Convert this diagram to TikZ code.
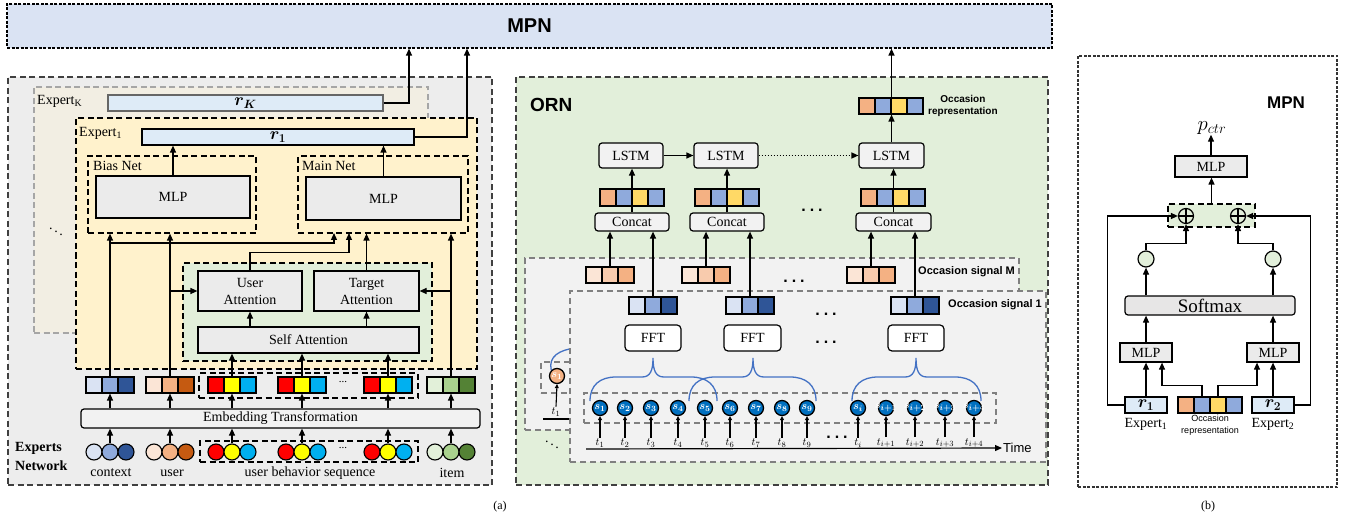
\documentclass[tikz,border=0pt]{standalone}
\usepackage{fontspec}
\setmainfont{Liberation Serif}
\setsansfont{Liberation Sans}
\usepackage{amsmath}
\usetikzlibrary{arrows.meta, positioning}

\definecolor{mpnfill}{HTML}{DAE3F3}
\definecolor{panelgray}{HTML}{EDEDED}
\definecolor{expkfill}{HTML}{F2EEE3}
\definecolor{expfill}{HTML}{FFF2CC}
\definecolor{attgreen}{HTML}{E2EFDA}
\definecolor{rfill}{HTML}{DEEBF7}
\definecolor{boxgray}{HTML}{EBEBEB}
\definecolor{lightgray}{HTML}{F2F2F2}
\definecolor{softgray}{HTML}{E7E6E6}
\definecolor{sigline}{HTML}{808080}
\definecolor{bA}{HTML}{DAE3F3}
\definecolor{bB}{HTML}{8FAADC}
\definecolor{bC}{HTML}{2F5597}
\definecolor{oA}{HTML}{FBE5D6}
\definecolor{oM}{HTML}{F8CBAD}
\definecolor{oB}{HTML}{F4B183}
\definecolor{oC}{HTML}{C55A11}
\definecolor{gA}{HTML}{E2F0D9}
\definecolor{gB}{HTML}{A9D18E}
\definecolor{gC}{HTML}{548235}
\definecolor{seqR}{HTML}{FF0000}
\definecolor{seqY}{HTML}{FFFF00}
\definecolor{seqB}{HTML}{00B0F0}
\definecolor{gold}{HTML}{FFD966}
\definecolor{sblue}{HTML}{0070C0}
\definecolor{braceblue}{HTML}{4472C4}

\tikzset{
  arr/.style={-{Triangle[length=7pt,width=6pt]}, line width=1.2pt},
  tarr/.style={-{Triangle[length=4pt,width=4pt]}, line width=1.1pt},
  box/.style={rectangle, draw, line width=1.2pt, fill=boxgray, inner sep=0pt,
    align=center, font=\fontsize{14}{17}\selectfont},
  rbox/.style={box, rounded corners=3pt},
  rbar/.style={rectangle, draw, line width=1.2pt, fill=rfill, inner sep=0pt,
    font=\fontsize{18}{18}\selectfont},
  dbox/.style={rectangle, draw, line width=1.2pt, inner sep=0pt, dash pattern=on 6pt off 3.5pt},
  fdbox/.style={dbox, dash pattern=on 3pt off 1.5pt},
  sigbox/.style={rectangle, draw=sigline, line width=1.5pt, fill=lightgray, inner sep=0pt,
    dash pattern=on 6pt off 4pt},
  cell/.style={rectangle, draw, line width=1.1pt, minimum width=16pt, inner sep=0pt},
  ball/.style={circle, draw, line width=1.1pt, minimum size=16pt, inner sep=0pt},
  snode/.style={circle, draw, line width=1.3pt, fill=sblue, minimum size=15pt, inner sep=0pt,
    text=white, font=\fontsize{11}{11}\selectfont},
  lbl/.style={inner sep=0pt, font=\fontsize{14}{16}\selectfont},
  tlbl/.style={inner sep=1pt, font=\fontsize{11}{11}\selectfont},
  tag/.style={inner sep=0pt, font=\sffamily\bfseries\fontsize{11}{12}\selectfont},
  ellip/.style={inner sep=0pt, font=\sffamily\bfseries\fontsize{16}{16}\selectfont},
  brace/.style={draw=braceblue, line width=1.3pt},
  oplus/.style={circle, draw, line width=1.2pt, minimum size=15pt, inner sep=0pt, fill=attgreen,
    path picture={\draw[line width=1.1pt] (path picture bounding box.north) -- (path picture bounding box.south)
      (path picture bounding box.west) -- (path picture bounding box.east);}},
  gdot/.style={circle, draw, line width=1.2pt, fill=attgreen, minimum size=16pt, inner sep=0pt}
}

% row of square cells: name, left x, centre y, height, colours
\newcommand{\cellrow}[5]{\foreach \c [count=\k] in {#5} {\node[cell, minimum height=#4, fill=\c] (#1\k) at ({#2+8+16*(\k-1)},#3) {};}}
% row of input circles: name, first centre x, centre y, colours
\newcommand{\dotrow}[4]{\foreach \c [count=\k] in {#4} {\node[ball, fill=\c] (#1\k) at ({#2+16*(\k-1)},#3) {};}}
\newcommand{\spdots}{.\hspace{4pt}.\hspace{4pt}.}
\newcommand{\slbl}[1]{\makebox[0pt]{$\boldsymbol{s_{#1}}$}}

\begin{document}
\begin{tikzpicture}[x=1pt, y=-1pt]
\useasboundingbox (0,0) rectangle (1348,521);

% ---- MPN bar ----
\node[fdbox, fill=mpnfill, minimum width=1045pt, minimum height=44pt,
  font=\sffamily\bfseries\fontsize{20}{20}\selectfont] (mpn) at (529.5,26) {MPN};

% ---- experts network ----
\node[dbox, draw=black!75, fill=panelgray, minimum width=484pt, minimum height=408pt] (expnet) at (250,281) {};
\node[dbox, draw=gray!70, fill=expkfill, minimum width=394pt, minimum height=246pt] (expk) at (231,210) {};
\node[lbl, anchor=west] (expklbl) at (37,101) {Expert\textsubscript{K}};
\node[rbar, draw=black!60, minimum width=275pt, minimum height=16pt] (rk) at (245.5,103) {$\boldsymbol{r_K}$};
\node[dbox, fill=expfill, minimum width=401pt, minimum height=251pt] (exp1) at (276.5,243.5) {};
\node[lbl, anchor=west] (exp1lbl) at (79,133) {Expert\textsubscript{1}};
\node[rbar, minimum width=272pt, minimum height=16pt] (r1) at (278,137) {$\boldsymbol{r_1}$};
\node[font=\fontsize{14}{14}\selectfont] (kdots) at (56,229) {$\ddots$};

\node[dbox, minimum width=168pt, minimum height=77pt] (biasnet) at (172,194.5) {};
\node[lbl, anchor=west] (biaslbl) at (93,166) {Bias Net};
\node[box, minimum width=154pt, minimum height=42pt] (biasmlp) at (173,197) {MLP};
\node[dbox, minimum width=170pt, minimum height=77pt] (mainnet) at (383,194.5) {};
\node[lbl, anchor=west] (mainlbl) at (302,166) {Main Net};
\node[box, minimum width=155pt, minimum height=43pt] (mainmlp) at (383.5,198.5) {MLP};

\node[dbox, fill=attgreen, minimum width=249pt, minimum height=98pt] (attn) at (307.5,312) {};
\node[box, minimum width=104pt, minimum height=40pt] (uatt) at (250,291) {User\\Attention};
\node[box, minimum width=105pt, minimum height=40pt] (tatt) at (366.5,291) {Target\\Attention};
\node[box, minimum width=221pt, minimum height=26pt] (satt) at (308.5,340) {Self Attention};

% embeddings
\node[dbox, minimum width=219pt, minimum height=25pt] (behemb) at (308.5,385.5) {};
\cellrow{ctxe}{86}{385}{16pt}{bA,bB,bC}
\cellrow{usre}{146}{385}{16pt}{oA,oB,oC}
\cellrow{behae}{208}{385}{16pt}{seqR,seqY,seqB}
\cellrow{behbe}{278}{385}{16pt}{seqR,seqY,seqB}
\cellrow{behce}{364}{385}{16pt}{seqR,seqY,seqB}
\cellrow{iteme}{427}{385}{16pt}{gA,gB,gC}
\node[lbl, font=\fontsize{11}{11}\selectfont] (embdots) at (343,382) {...};

\node[rbox, fill=lightgray, minimum width=399pt, minimum height=19pt] (emb) at (280.5,418.5) {Embedding Transformation};

% inputs
\node[dbox, minimum width=218pt, minimum height=21pt] (behin) at (309,451.5) {};
\dotrow{ctxc}{94}{452}{bA,bB,bC}
\dotrow{usrc}{154}{452}{oA,oB,oC}
\dotrow{behac}{216}{452}{seqR,seqY,seqB}
\dotrow{behbc}{286}{452}{seqR,seqY,seqB}
\dotrow{behcc}{372}{452}{seqR,seqY,seqB}
\dotrow{itemc}{435}{452}{gA,gB,gC}
\node[lbl, font=\fontsize{11}{11}\selectfont] (indots) at (343,448) {...};
\node[lbl] (ctxlbl) at (111,473) {context};
\node[lbl] (usrlbl) at (172,473) {user};
\node[lbl] (behlbl) at (310,473) {user behavior sequence};
\node[lbl] (itemlbl) at (452,473) {item};
\node[lbl, anchor=west, align=left, font=\bfseries\fontsize{14}{19}\selectfont] (expname) at (15,456) {Experts\\Network};

% ---- experts connections ----
\foreach \n in {ctxc2,usrc2,behac2,behbc2,behcc2,itemc2}
  \draw[arr] (\n.north) -- (\n |- emb.south);
\foreach \n in {ctxe2,usre2,behae2,behbe2,behce2,iteme2}
  \draw[arr] (\n |- emb.north) -- (\n.south);
\foreach \n in {behae2,behbe2,behce2}
  \draw[arr] (\n.north) -- (\n |- satt.south);
\draw[arr] (ctxe2.north) -- (ctxe2 |- biasnet.south);
\draw[arr] (usre2.north) -- (usre2 |- biasnet.south);
\draw[arr] (iteme2.north) -- (iteme2 |- mainnet.south);
\coordinate (ctxbend) at (110,243);
\coordinate (mnin1) at (334,233);
\coordinate (mnin2) at (349,233);
\coordinate (usrbend) at (170,291);
\coordinate (itembend) at (451,291);
\draw[arr] (ctxbend) -| (mnin1);
\draw[arr] (usrbend) -- (uatt.west);
\draw[arr] (itembend) -- (tatt.east);
\draw[arr] (uatt.north) -- ++(0,-18) -| (mnin2);
\draw[arr] (tatt.north) -- (tatt |- mainnet.south);
\draw[arr] (satt.north -| uatt) -- (uatt.south);
\draw[arr] (satt.north -| tatt) -- (tatt.south);
\draw[arr] (biasmlp.north) -- (biasmlp |- r1.south);
\draw[arr] (mainmlp.north) -- (mainmlp |- r1.south);
\coordinate (rkup) at (409,103);
\coordinate (r1up) at (467,137);
\draw[arr] (rk.east) -- (rkup) -- (rkup |- mpn.south);
\draw[arr] (r1.east) -- (r1up) -- (r1up |- mpn.south);

% ---- ORN ----
\node[dbox, draw=black!75, fill=attgreen, minimum width=532pt, minimum height=408pt] (orn) at (782,281) {};
\node[anchor=west, inner sep=0pt, font=\sffamily\bfseries\fontsize{19}{19}\selectfont] (ornlbl) at (530,105) {ORN};

% occasion signal M
\node[sigbox, minimum width=494pt, minimum height=172pt] (sigm) at (772,344) {};
\cellrow{sma}{586}{275}{16pt}{oA,oM,oB}
\cellrow{smb}{682}{275}{16pt}{oA,oM,oB}
\cellrow{smc}{847}{275}{16pt}{oA,oM,oB}
\node[tag, anchor=west] (smlbl) at (918,272) {Occasion signal M};
\node[ellip] (smdots) at (794,281) {\spdots};
\node[sigbox, minimum width=34pt, minimum height=31pt] (obox) at (558,377.5) {};
\node[snode, fill=oB] (os1) at (557,376) {\slbl{1}};
\node[tlbl] (ot1) at (556,412) {$t_1$};
\draw[tarr] (ot1.north) -- (os1.south);
\coordinate (omaxis) at (543,419);
\draw[line width=1.2pt] (omaxis) -- ++(32,0);
\draw[brace] (os1.north west) .. controls (548,356) and (560,350) .. (575,348);
\node[font=\fontsize{14}{14}\selectfont] (sdots) at (552,442) {$\ddots$};

% occasion signal 1
\node[sigbox, minimum width=476pt, minimum height=171pt] (sig1) at (808,376.5) {};
\cellrow{sia}{629}{305.5}{17pt}{bA,bB,bC}
\cellrow{sib}{726}{305.5}{17pt}{bA,bB,bC}
\cellrow{sic}{891}{305.5}{17pt}{bA,bB,bC}
\node[tag, anchor=west] (s1lbl) at (948,305) {Occasion signal 1};
\node[ellip] (fdots1) at (826,314) {\spdots};
\node[ellip] (fdots2) at (826,342) {\spdots};
\node[rbox, rounded corners=4pt, fill=white, minimum width=56pt, minimum height=26pt] (fft1) at (653,338) {FFT};
\node[rbox, rounded corners=4pt, fill=white, minimum width=57pt, minimum height=26pt] (fft2) at (752.5,338) {FFT};
\node[rbox, rounded corners=4pt, fill=white, minimum width=56pt, minimum height=26pt] (fft3) at (916,338) {FFT};

\node[sigbox, fill=none, minimum width=412pt, minimum height=30pt] (srow) at (790,408) {};
\foreach \a/\m/\b in {590/653/717, 689/753/816, 852/916/981}
  \draw[brace] (\a,401) .. controls (\a,385) and ({\a+10},377) .. ({\a+26},377) -- ({\m-11},377)
    .. controls ({\m-3},377) and (\m,371) .. (\m,358) .. controls (\m,371) and ({\m+3},377) .. ({\m+11},377)
    -- ({\b-26},377) .. controls ({\b-10},377) and (\b,385) .. (\b,401);
\foreach \x/\s [count=\k] in {600/1,625/2,651/3,678/4,705/5,730/6,756/7,782/8,807/9} {
  \node[snode] (s\k) at (\x,408) {\slbl{\s}};
  \node[tlbl] (t\k) at (\x,443) {$t_{\s}$};
  \draw[tarr] (t\k.north) -- (s\k.south);
}
\foreach \x/\s [count=\k] in {858/i,886/{i+1},915/{i+2},945/{i+3},974/{i+4}} {
  \node[snode] (si\k) at (\x,408) {\slbl{\s}};
  \node[tlbl] (ti\k) at (\x,443) {$t_{\s}$};
  \draw[tarr] (ti\k.north) -- (si\k.south);
}
\node[ellip] (tdots) at (837,437) {\spdots};
\coordinate (taxis) at (586,449);
\node[anchor=west, inner sep=1pt, font=\sffamily\fontsize{13}{13}\selectfont] (time) at (1002,448) {Time};
\draw[arr] (taxis) -- (time.west);

% concat and lstm
\node[rbox, fill=lightgray, minimum width=74pt, minimum height=18pt] (cat1) at (632,222) {Concat};
\node[rbox, fill=lightgray, minimum width=74pt, minimum height=18pt] (cat2) at (727,222) {Concat};
\node[rbox, fill=lightgray, minimum width=75pt, minimum height=18pt] (cat3) at (893.5,222) {Concat};
\node[ellip] (catdots) at (812,210) {\spdots};
\cellrow{cva}{600}{197.5}{17pt}{oB,bB,gold,bB}
\cellrow{cvb}{695}{197.5}{17pt}{oB,bB,gold,bB}
\cellrow{cvc}{861}{197.5}{17pt}{oB,bB,gold,bB}
\node[rbox, fill=lightgray, minimum width=64pt, minimum height=25pt] (lstm1) at (631,155.5) {LSTM};
\node[rbox, fill=lightgray, minimum width=64pt, minimum height=25pt] (lstm2) at (726,155.5) {LSTM};
\node[rbox, fill=lightgray, minimum width=65pt, minimum height=25pt] (lstm3) at (891.5,155.5) {LSTM};
\cellrow{occ}{859}{106}{16pt}{oB,bB,gold,bB}
\node[tag, anchor=west, align=center, font=\sffamily\bfseries\fontsize{10}{12}\selectfont] (occlbl) at (928,106) {Occasion\\representation};

% ---- ORN connections ----
\draw[arr] (sma2.north) -- (sma2 |- cat1.south);
\draw[arr] (smb2.north) -- (smb2 |- cat2.south);
\draw[arr] (smc2.north) -- (smc2 |- cat3.south);
\draw[arr] (sia2.north) -- (sia2 |- cat1.south);
\draw[arr] (sib2.north) -- (sib2 |- cat2.south);
\draw[arr] (sic2.north) -- (sic2 |- cat3.south);
\draw[arr] (cat1.north) -- (cat1 |- lstm1.south);
\draw[arr] (cat2.north) -- (cat2 |- lstm2.south);
\draw[arr] (cat3.north) -- (cat3 |- lstm3.south);
\draw[arr] (lstm1.east) -- (lstm2.west);
\draw[arr, line width=1.4pt, dash pattern=on 1.4pt off 1.6pt] (lstm2.east) -- (lstm3.west);
\draw[arr] (lstm3.north) -- (lstm3 |- occ2.south);
\draw[arr] (lstm3 |- occ2.north) -- (lstm3 |- mpn.south);

% ---- MPN detail (b) ----
\node[fdbox, draw=black!80, minimum width=259pt, minimum height=431pt] (mpnb) at (1207.5,271.5) {};
\node[inner sep=0pt, font=\sffamily\bfseries\fontsize{17}{17}\selectfont] (mpnblbl) at (1286,103) {MPN};
\node[inner sep=0pt, font=\fontsize{22}{22}\selectfont] (pctr) at (1212,128) {$p_{ctr}$};
\node[box, minimum width=72pt, minimum height=21pt] (omlp) at (1211,166.5) {MLP};
\node[dbox, fill=attgreen, minimum width=87pt, minimum height=23pt] (fuse) at (1211.5,215.5) {};
\node[oplus] (add1) at (1186,216) {};
\node[oplus] (add2) at (1238,216) {};
\node[gdot] (w1) at (1146,259) {};
\node[gdot] (w2) at (1273,259) {};
\node[rbox, fill=softgray, minimum width=170pt, minimum height=19pt,
  font=\fontsize{19}{19}\selectfont] (soft) at (1210,305.5) {Softmax};
\node[box, minimum width=52pt, minimum height=19pt] (gmlp1) at (1146,352.5) {MLP};
\node[box, minimum width=52pt, minimum height=19pt] (gmlp2) at (1273,352.5) {MLP};
\node[rbar, minimum width=42pt, minimum height=16pt] (br1) at (1146,405) {$\boldsymbol{r_1}$};
\node[rbar, minimum width=42pt, minimum height=16pt] (br2) at (1273,405) {$\boldsymbol{r_2}$};
\cellrow{bocc}{1178}{405}{16pt}{oB,bB,gold,bB}
\node[lbl] (e1lbl) at (1146,424) {Expert\textsubscript{1}};
\node[inner sep=0pt, align=center, font=\sffamily\fontsize{9}{12}\selectfont] (boccl) at (1210,425) {Occasion\\representation};
\node[lbl] (e2lbl) at (1273,424) {Expert\textsubscript{2}};

\draw[arr] (br1.north) -- (gmlp1.south);
\draw[arr] (br2.north) -- (gmlp2.south);
\draw[arr] (bocc2.north) -- ++(0,-11) -| ([xshift=16pt]gmlp1.south);
\draw[arr] (bocc3.north) -- ++(0,-11) -| ([xshift=-16pt]gmlp2.south);
\draw[arr] (gmlp1.north) -- (gmlp1 |- soft.south);
\draw[arr] (gmlp2.north) -- (gmlp2 |- soft.south);
\draw[arr] (soft.north -| w1) -- (w1.south);
\draw[arr] (soft.north -| w2) -- (w2.south);
\draw[arr] (w1.north) -- ++(0,-7) -| (add1.south);
\draw[arr] (w2.north) -- ++(0,-7) -| (add2.south);
\draw[arr] (br1.west) -- ++(-17,0) |- (add1.west);
\draw[arr] (br2.east) -- ++(16,0) |- (add2.east);
\draw[arr] (fuse.north) -- (fuse.north |- omlp.south);
\draw[arr] (omlp.north) -- (omlp |- pctr.south);

% ---- captions ----
\node[lbl, font=\fontsize{12}{12}\selectfont] (capa) at (500,507) {(a)};
\node[lbl, font=\fontsize{12}{12}\selectfont] (capb) at (1208,507) {(b)};

\end{tikzpicture}
\end{document}
